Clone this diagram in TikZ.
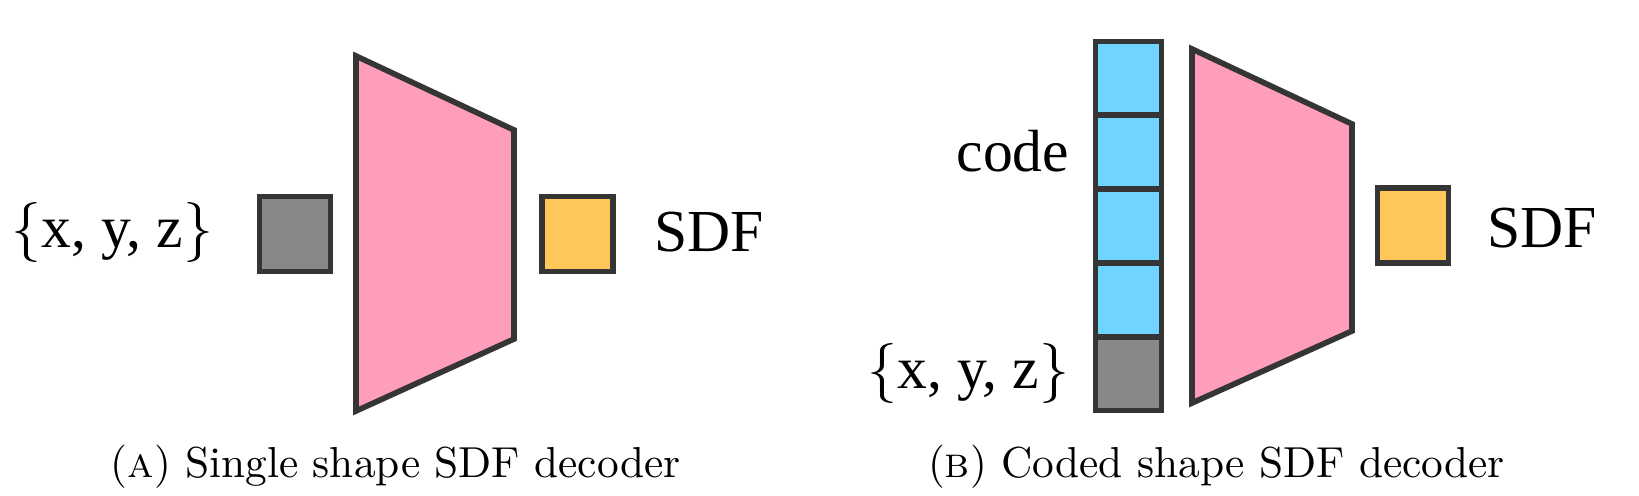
\documentclass[tikz,border=0pt]{standalone}
\usepackage{fontspec}
\newfontfamily\labfont{Liberation Serif}
\definecolor{edge}{HTML}{353535}
\definecolor{pinkf}{HTML}{FF9EBB}
\definecolor{orangef}{HTML}{FFC75A}
\definecolor{bluef}{HTML}{6FD4FF}
\definecolor{grayf}{HTML}{888888}
\newcommand{\xyzlabel}{$\{$x, y, z$\}$}
\begin{document}
\begin{tikzpicture}[x=0.24pt,y=-0.24pt,
  cell/.style={draw=edge,line width=1.35pt,minimum width=71*0.24pt,minimum height=75*0.24pt,inner sep=0pt,outer sep=0pt},
  net/.style={draw=edge,line width=1.35pt,fill=pinkf,line join=miter},
  lab/.style={font=\labfont\fontsize{14.3}{16}\selectfont,inner sep=0pt},
  captext/.style={font=\fontsize{10.4}{12}\selectfont,inner sep=0pt}]
\useasboundingbox (0,0) rectangle (1639,495);
% ---- panel A ----
\node[cell,fill=grayf] (inA) at (295,234) {};
\node[cell,fill=orangef] (outA) at (577.5,234) {};
\coordinate (a1) at (356,56);
\coordinate (a2) at (514,130);
\coordinate (a3) at (514,339);
\coordinate (a4) at (356,411);
\draw[net] (a1) -- (a2) -- (a3) -- (a4) -- cycle;
\node[lab,anchor=east] (xyzA) at (214,232) {\xyzlabel};
\node[lab,anchor=west] (sdfA) at (654,232) {SDF};
\node[captext] (capA) at (395.5,467) {(\textsc{a}) Single shape SDF decoder};
% ---- panel B ----
\node[cell,fill=bluef,minimum height=73.8*0.24pt,minimum width=66*0.24pt] (c1) at (1128.5,78.4) {};
\node[cell,fill=bluef,minimum height=73.8*0.24pt,minimum width=66*0.24pt] (c2) at (1128.5,152.2) {};
\node[cell,fill=bluef,minimum height=73.8*0.24pt,minimum width=66*0.24pt] (c3) at (1128.5,226.0) {};
\node[cell,fill=bluef,minimum height=73.8*0.24pt,minimum width=66*0.24pt] (c4) at (1128.5,299.8) {};
\node[cell,fill=grayf,minimum height=73.8*0.24pt,minimum width=66*0.24pt] (inB) at (1128.5,373.6) {};
\coordinate (b1) at (1192,49);
\coordinate (b2) at (1352,124);
\coordinate (b3) at (1352,331);
\coordinate (b4) at (1192,403);
\draw[net] (b1) -- (b2) -- (b3) -- (b4) -- cycle;
\node[cell,fill=orangef] (outB) at (1413,225.5) {};
\node[lab,anchor=east] (code) at (1070,151) {code};
\node[lab,anchor=east] (xyzB) at (1070,373) {\xyzlabel};
\node[lab,anchor=west] (sdfB) at (1487,228) {SDF};
\node[captext] (capB) at (1216.5,467) {(\textsc{b}) Coded shape SDF decoder};
\end{tikzpicture}
\end{document}
